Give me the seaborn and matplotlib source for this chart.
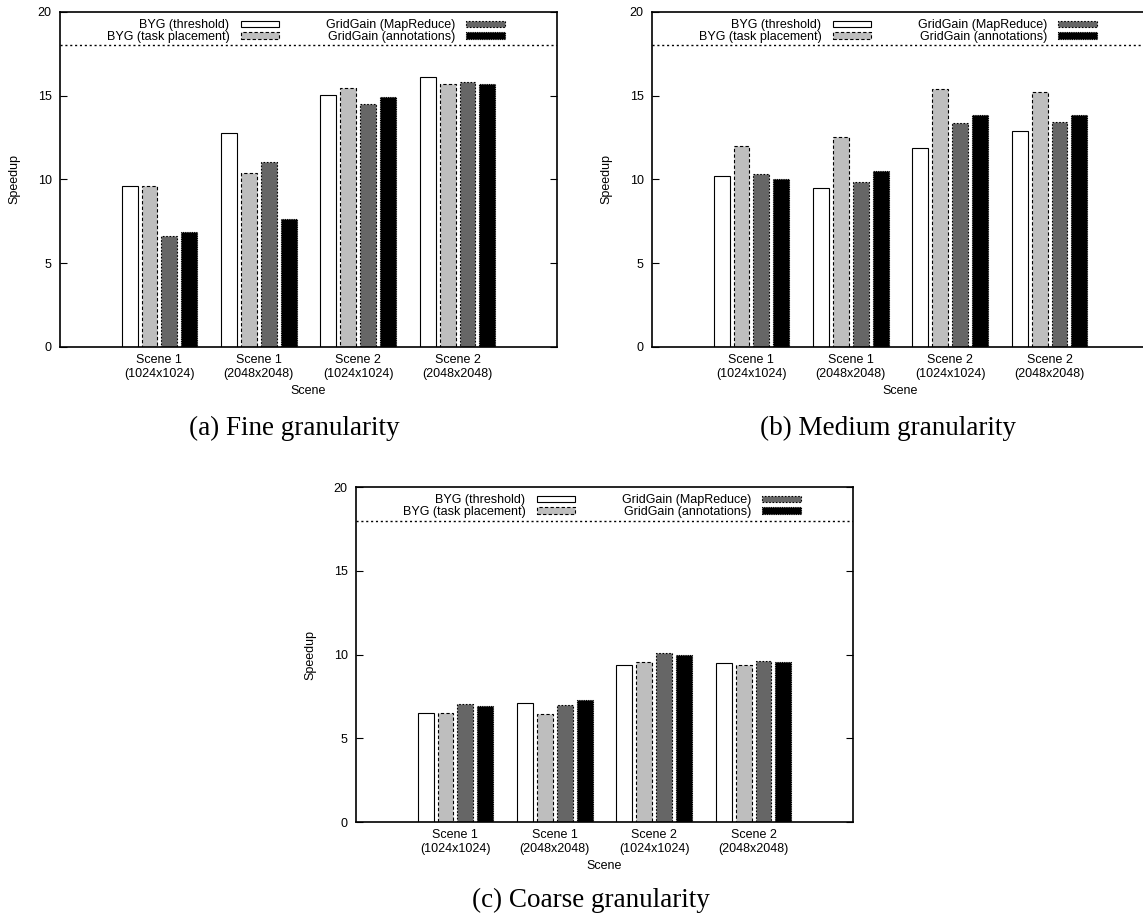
import pandas as pd
import seaborn as sns
import matplotlib.pyplot as plt
from matplotlib.patches import Patch

scenes = ['Scene 1\n(1024x1024)', 'Scene 1\n(2048x2048)',
          'Scene 2\n(1024x1024)', 'Scene 2\n(2048x2048)']
methods = ['BYG (threshold)', 'BYG (task placement)',
           'GridGain (MapReduce)', 'GridGain (annotations)']

# (a) Fine granularity
fine_threshold = [9.6, 12.8, 15.05, 16.1]
fine_task = [9.6, 10.4, 15.45, 15.7]
fine_mapreduce = [6.6, 11.05, 14.5, 15.8]
fine_annot = [6.85, 7.62, 14.92, 15.72]

# (b) Medium granularity
medium_threshold = [10.2, 9.52, 11.86, 12.9]
medium_task = [12.0, 12.52, 15.42, 15.22]
medium_mapreduce = [10.32, 9.88, 13.38, 13.44]
medium_annot = [10.03, 10.5, 13.86, 13.86]

# (c) Coarse granularity
coarse_threshold = [6.5, 7.1, 9.4, 9.5]
coarse_task = [6.5, 6.45, 9.55, 9.35]
coarse_mapreduce = [7.05, 7.0, 10.1, 9.6]
coarse_annot = [6.93, 7.28, 9.97, 9.55]

colors = ['white', '#bebebe', '#666666', 'black']
edge_styles = ['-', (0, (3, 2)), (0, (1.5, 1.5)), (0, (1, 1))]

sns.set_style('ticks')
plt.rcParams['font.family'] = ['Liberation Sans', 'DejaVu Sans']
plt.rcParams['text.color'] = 'black'
plt.rcParams['axes.labelcolor'] = 'black'
plt.rcParams['xtick.color'] = 'black'
plt.rcParams['ytick.color'] = 'black'
plt.rcParams['axes.edgecolor'] = 'black'


def make_df(threshold, task, mapreduce, annot):
    rows = []
    for m, vals in zip(methods, [threshold, task, mapreduce, annot]):
        for s, v in zip(scenes, vals):
            rows.append({'scene': s, 'method': m, 'speedup': v})
    return pd.DataFrame(rows)


def speedup_panel(ax, df, right_ticks=True):
    sns.barplot(data=df, x='scene', y='speedup', hue='method', order=scenes,
                hue_order=methods, palette=colors, saturation=1, width=0.8,
                gap=0.2, edgecolor='black', linewidth=0.8, legend=False, ax=ax)
    for cont, ls in zip(ax.containers, edge_styles):
        for bar in cont:
            bar.set_linestyle(ls)
    ax.axhline(18, color='black', lw=1, ls=(0, (1.5, 2)))
    ax.set_xlim(-1, 4)
    ax.set_ylim(0, 20)
    ax.set_yticks([0, 5, 10, 15, 20])
    ax.tick_params(axis='y', direction='in', length=5, right=right_ticks,
                   labelsize=9, pad=6)
    ax.tick_params(axis='x', length=0, labelsize=9, pad=5)
    for sp in ax.spines.values():
        sp.set_visible(True)
        sp.set_linewidth(1.2)
    ax.set_xlabel('Scene', fontsize=9)
    ax.set_ylabel('Speedup', fontsize=9)
    ax.xaxis.set_label_coords(0.5, -0.113)
    ax.yaxis.set_label_coords(-0.08, 0.5)
    handles = [Patch(facecolor=c, edgecolor='black', linestyle=ls, linewidth=0.8)
               for c, ls in zip(colors, edge_styles)]
    ax.legend(handles, methods, ncol=2, markerfirst=False, frameon=False,
              loc='upper right', bbox_to_anchor=(0.895, 0.978), fontsize=9,
              handlelength=3.1, handleheight=0.45, handletextpad=0.9,
              columnspacing=3.7, labelspacing=-0.05, borderpad=0, borderaxespad=0)


fig = plt.figure(figsize=(11.43, 9.16), dpi=100)
ax_a = fig.add_axes([0.05249, 0.62118, 0.43482, 0.36572])
ax_b = fig.add_axes([0.57043, 0.62118, 0.43482, 0.36572])
ax_c = fig.add_axes([0.31146, 0.10262, 0.43482, 0.36572])

speedup_panel(ax_a, make_df(fine_threshold, fine_task, fine_mapreduce, fine_annot))
speedup_panel(ax_b, make_df(medium_threshold, medium_task, medium_mapreduce, medium_annot),
              right_ticks=False)
speedup_panel(ax_c, make_df(coarse_threshold, coarse_task, coarse_mapreduce, coarse_annot))

cap = dict(ha='center', va='center', fontsize=19.5, family='Liberation Serif')
fig.text(0.2572, 0.5328, '(a) Fine granularity', **cap)
fig.text(0.7765, 0.5328, '(b) Medium granularity', **cap)
fig.text(0.517, 0.0175, '(c) Coarse granularity', **cap)

fig.savefig('out.png', dpi=100)
